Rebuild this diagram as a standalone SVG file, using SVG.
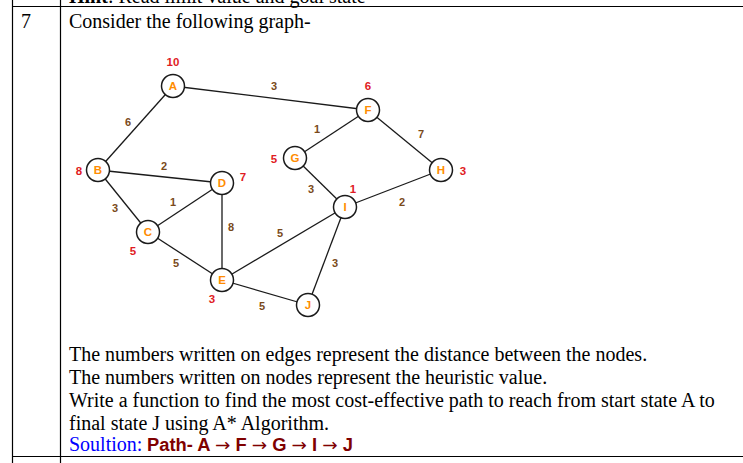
<svg xmlns="http://www.w3.org/2000/svg" width="743" height="463" viewBox="0 0 743 463">
<style>
.tbl{stroke:#000;stroke-width:1.2;fill:none}
.body{font-family:"Liberation Serif","Times New Roman",serif;font-size:20px;fill:#000}
.edge{stroke:#1a1a1a;stroke-width:1.3;fill:none}
.node circle{fill:#fff;stroke:#1a1a1a;stroke-width:1.5}
.lbl{font-family:"Liberation Sans",Arial,sans-serif;font-weight:bold;font-size:11.5px;fill:#FF8C00;text-anchor:middle}
.h{font-family:"Liberation Sans",Arial,sans-serif;font-weight:bold;font-size:11.5px;fill:#E01B24;text-anchor:middle}
.w{font-family:"Liberation Sans",Arial,sans-serif;font-weight:bold;font-size:11px;fill:#7A4A1A;text-anchor:middle}
.arr{font-family:"DejaVu Sans",sans-serif;font-weight:normal}
</style>
<rect width="743" height="463" fill="#fff"/>
<g id="table">
<line class="tbl" x1="12.5" y1="0" x2="12.5" y2="463"/>
<line class="tbl" x1="60.5" y1="0" x2="60.5" y2="463"/>
<line class="tbl" x1="12" y1="6.5" x2="743" y2="6.5"/>
<line class="tbl" x1="12" y1="456.5" x2="743" y2="456.5"/>
</g>
<g id="texts">
<text class="body" x="69" y="3"><tspan font-weight="bold">Hint</tspan>: Read limit value and goal state</text>
<text class="body" x="21" y="28">7</text>
<text class="body" x="69" y="28">Consider the following graph-</text>
<text class="body" x="69" y="361">The numbers written on edges represent the distance between the nodes.</text>
<text class="body" x="69" y="384">The numbers written on nodes represent the heuristic value.</text>
<text class="body" x="69" y="407">Write a function to find the most cost-effective path to reach from start state A to</text>
<text class="body" x="69" y="430">final state J using A* Algorithm.</text>
<text class="body" x="69" y="451" style="fill:#0000FF">Soultion:</text>
<text x="147" y="451" font-family="Liberation Sans, Arial, sans-serif" font-weight="bold" font-size="17.5" fill="#7F0000" textLength="206" lengthAdjust="spacingAndGlyphs">Path- A <tspan class="arr">→</tspan> F <tspan class="arr">→</tspan> G <tspan class="arr">→</tspan> I <tspan class="arr">→</tspan> J</text>
</g>
<g id="connectors">
<line class="edge" x1="173" y1="86" x2="98" y2="170"/>
<line class="edge" x1="173" y1="86" x2="368" y2="110"/>
<line class="edge" x1="98" y1="170" x2="222" y2="183"/>
<line class="edge" x1="98" y1="170" x2="148" y2="232"/>
<line class="edge" x1="148" y1="232" x2="222" y2="183"/>
<line class="edge" x1="148" y1="232" x2="222" y2="280"/>
<line class="edge" x1="222" y1="183" x2="222" y2="280"/>
<line class="edge" x1="222" y1="280" x2="345" y2="207"/>
<line class="edge" x1="222" y1="280" x2="308" y2="305"/>
<line class="edge" x1="368" y1="110" x2="295" y2="158"/>
<line class="edge" x1="368" y1="110" x2="441" y2="170"/>
<line class="edge" x1="295" y1="158" x2="345" y2="207"/>
<line class="edge" x1="441" y1="170" x2="345" y2="207"/>
<line class="edge" x1="345" y1="207" x2="308" y2="305"/>
<text class="w" x="128" y="126">6</text>
<text class="w" x="274" y="90">3</text>
<text class="w" x="164" y="170">2</text>
<text class="w" x="115" y="212">3</text>
<text class="w" x="173" y="206">1</text>
<text class="w" x="176" y="267">5</text>
<text class="w" x="231" y="231">8</text>
<text class="w" x="280" y="237">5</text>
<text class="w" x="262" y="310">5</text>
<text class="w" x="317" y="133">1</text>
<text class="w" x="421" y="138">7</text>
<text class="w" x="311" y="193">3</text>
<text class="w" x="402" y="206">2</text>
<text class="w" x="335" y="267">3</text>
</g>
<g id="node-A" class="node"><circle cx="173" cy="86" r="11.5"/><text class="lbl" x="173" y="90">A</text><text class="h" x="173" y="66">10</text></g>
<g id="node-B" class="node"><circle cx="98" cy="170" r="11.5"/><text class="lbl" x="98" y="174">B</text><text class="h" x="79" y="175">8</text></g>
<g id="node-C" class="node"><circle cx="148" cy="232" r="11.5"/><text class="lbl" x="148" y="236">C</text><text class="h" x="133" y="255">5</text></g>
<g id="node-D" class="node"><circle cx="222" cy="183" r="11.5"/><text class="lbl" x="222" y="187">D</text><text class="h" x="243" y="181">7</text></g>
<g id="node-E" class="node"><circle cx="222" cy="280" r="11.5"/><text class="lbl" x="222" y="284">E</text><text class="h" x="212" y="303">3</text></g>
<g id="node-F" class="node"><circle cx="368" cy="110" r="11.5"/><text class="lbl" x="368" y="114">F</text><text class="h" x="368" y="90">6</text></g>
<g id="node-G" class="node"><circle cx="295" cy="158" r="11.5"/><text class="lbl" x="295" y="162">G</text><text class="h" x="274" y="163">5</text></g>
<g id="node-H" class="node"><circle cx="441" cy="170" r="11.5"/><text class="lbl" x="441" y="174">H</text><text class="h" x="463" y="175">3</text></g>
<g id="node-I" class="node"><circle cx="345" cy="207" r="11.5"/><text class="lbl" x="345" y="211">I</text><text class="h" x="353" y="193">1</text></g>
<g id="node-J" class="node"><circle cx="308" cy="305" r="11.5"/><text class="lbl" x="308" y="309">J</text></g>
</svg>
